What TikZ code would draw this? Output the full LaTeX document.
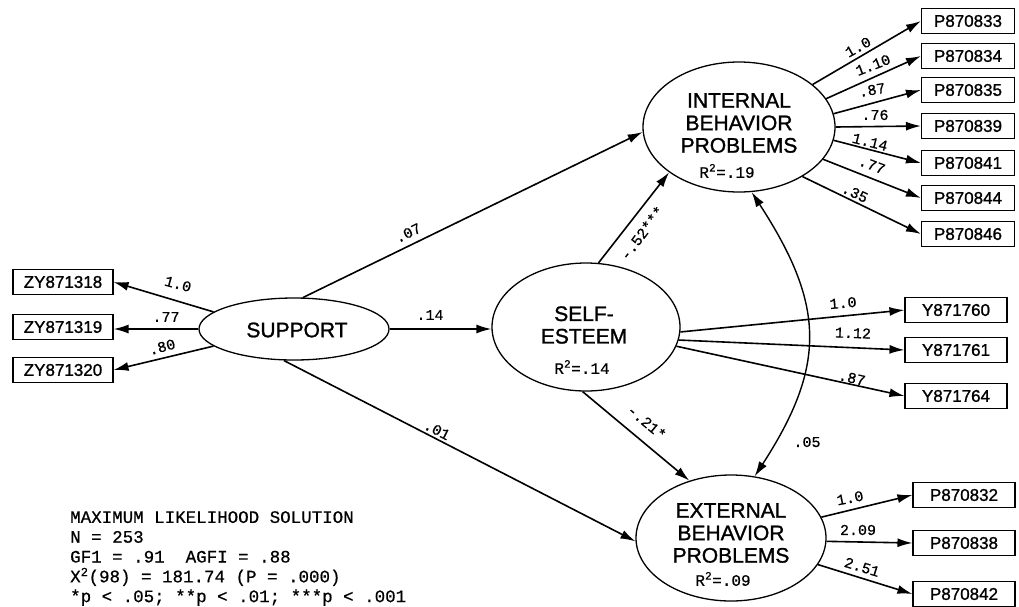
\documentclass[tikz,border=0pt]{standalone}
\usepackage{fontspec}
\setmainfont{Liberation Sans}
\newfontfamily\medsf[FakeBold=1.2]{Liberation Sans}
\newfontfamily\cour[FakeBold=0.6]{Liberation Mono}
\usetikzlibrary{shapes.geometric,arrows.meta}
\begin{document}
\begin{tikzpicture}[x=1pt,y=-1pt,
  lat/.style={draw, ellipse, line width=1.3pt, inner sep=0pt},
  obs/.style={draw, rectangle, line width=1.1pt, minimum height=25pt, inner sep=0pt, font=\medsf\fontsize{17}{17}\selectfont},
  arr/.style={line width=1.6pt, -{Latex[length=15pt,width=9pt]}},
  dblarr/.style={line width=1.4pt, {Latex[length=15pt,width=9pt]}-{Latex[length=15pt,width=9pt]}},
  coef/.style={font=\cour\fontsize{15}{15}\selectfont, inner sep=0pt},
  lattext/.style={font=\medsf\fontsize{21}{22.5}\selectfont, align=center, inner sep=0pt},
  rsq/.style={font=\cour\fontsize{16}{16}\selectfont, inner sep=0pt},
  note/.style={font=\cour\fontsize{17.5}{19.8}\selectfont, align=left, anchor=north west, inner sep=0pt}
]
\useasboundingbox (0,0) rectangle (1019,606);

% latent variables
\node[lat, minimum width=190pt, minimum height=62pt] (sup) at (294,329) {};
\node[lat, minimum width=188pt, minimum height=128pt] (self) at (586,327) {};
\node[lat, minimum width=192pt, minimum height=130pt] (int) at (739,127) {};
\node[lat, minimum width=190pt, minimum height=126pt] (ext) at (731,538) {};

\node[lattext] (supT) at (297,330) {SUPPORT};
\node[lattext] (selfT) at (584,325) {SELF-\\ESTEEM};
\node[rsq] (selfR) at (582,367) {R\textsuperscript{2}=.14};
\node[lattext] (intT) at (739,123) {INTERNAL\\BEHAVIOR\\PROBLEMS};
\node[rsq] (intR) at (727,171) {R\textsuperscript{2}=.19};
\node[lattext] (extT) at (731,533) {EXTERNAL\\BEHAVIOR\\PROBLEMS};
\node[rsq] (extR) at (723,579) {R\textsuperscript{2}=.09};

% observed variables
\node[obs, minimum width=100pt] (zy1) at (63,282) {ZY871318};
\node[obs, minimum width=100pt] (zy2) at (63,327) {ZY871319};
\node[obs, minimum width=100pt] (zy3) at (63,370) {ZY871320};

\node[obs, minimum width=93pt] (p833) at (968,21) {P870833};
\node[obs, minimum width=93pt] (p834) at (968,56) {P870834};
\node[obs, minimum width=93pt] (p835) at (968,90) {P870835};
\node[obs, minimum width=93pt] (p839) at (968,126) {P870839};
\node[obs, minimum width=93pt] (p841) at (968,163) {P870841};
\node[obs, minimum width=93pt] (p844) at (968,198) {P870844};
\node[obs, minimum width=93pt] (p846) at (968,234) {P870846};

\node[obs, minimum width=102pt] (y760) at (956,310) {Y871760};
\node[obs, minimum width=102pt] (y761) at (956,350) {Y871761};
\node[obs, minimum width=102pt] (y764) at (956,396) {Y871764};

\node[obs, minimum width=102pt] (p832) at (964,495) {P870832};
\node[obs, minimum width=102pt] (p838) at (964,543) {P870838};
\node[obs, minimum width=102pt] (p842) at (964,594) {P870842};

% support loadings
\draw[arr] (sup.168) -- (zy1.east);
\draw[arr] (sup.west) -- (zy2.east |- sup.west);
\draw[arr] (sup.192) -- (zy3.east);
\node[coef, rotate=-15] (l1) at (178,284) {1.0};
\node[coef] (l2) at (166,317) {.77};
\node[coef, rotate=15] (l3) at (162,347) {.80};

% structural paths
\draw[arr] (sup.74) -- (int.183);
\draw[arr] (sup.east) -- (sup.east -| self.west);
\draw[arr] (sup.252) -- (ext.182);
\draw[arr] (self.79) -- (int.213);
\draw[arr] (self.267) -- (ext.126);
\draw[dblarr] (int.-79) to[out=-57,in=57,looseness=1.2] (ext.69);

\node[coef, rotate=26] (c07) at (408,233) {.07};
\node[coef] (c14) at (430,315) {.14};
\node[coef, rotate=-27] (c01) at (437,430) {.01};
\node[coef, rotate=53] (c52) at (642,233) {-.52***};
\node[coef, rotate=-40] (c21) at (647,422) {-.21*};
\node[coef] (c05) at (807,442) {.05};

% internal loadings
\draw[arr] (int.30) -- (p833.west);
\draw[arr] (int.18) -- (p834.west);
\draw[arr] (int.8.5) -- (p835.west);
\draw[arr] (int.0) -- (p839.west);
\draw[arr] (int.-8) -- (p841.west);
\draw[arr] (int.-21) -- (p844.west);
\draw[arr] (int.-38) -- (p846.west);
\node[coef, rotate=29] (i1) at (858,47) {1.0};
\node[coef, rotate=21] (i2) at (873,65) {1.10};
\node[coef, rotate=10] (i3) at (872,90) {.87};
\node[coef] (i4) at (875,115) {.76};
\node[coef, rotate=-14] (i5) at (870,142) {1.14};
\node[coef, rotate=-21] (i6) at (872,165) {.77};
\node[coef, rotate=-25] (i7) at (855,193) {.35};

% self-esteem loadings
\draw[arr] (self.-3) -- (y760.west);
\draw[arr] (self.-8) -- (y761.west);
\draw[arr] (self.-12) -- (y764.west);
\node[coef, rotate=5] (s1) at (843,303) {1.0};
\node[coef, rotate=-2] (s2) at (853,333) {1.12};
\node[coef, rotate=-13] (s3) at (852,378) {.87};

% external loadings
\draw[arr] (ext.13) -- (p832.west);
\draw[arr] (ext.-2) -- (p838.west);
\draw[arr] (ext.-17) -- (p842.west);
\node[coef, rotate=11] (e1) at (850,498) {1.0};
\node[coef] (e2) at (858,530) {2.09};
\node[coef, rotate=-17] (e3) at (862,567) {2.51};

% fit statistics
\node[note] (fit) at (70,511) {MAXIMUM LIKELIHOOD SOLUTION\\N = 253\\GF1 = .91~~AGFI = .88\\X\textsuperscript{2}(98) = 181.74 (P = .000)\\*p < .05; **p < .01; ***p < .001};
\end{tikzpicture}
\end{document}
